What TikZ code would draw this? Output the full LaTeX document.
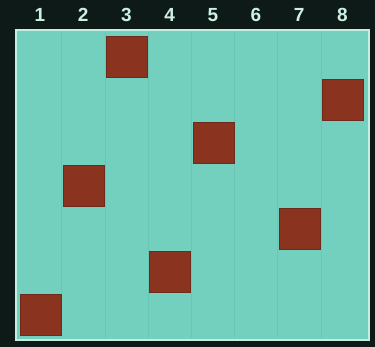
\documentclass[tikz,border=0pt]{standalone}
\usepackage{fontspec}
\setsansfont{Liberation Sans}
\usetikzlibrary{positioning}
\definecolor{night}{RGB}{14,26,24}
\definecolor{mint}{RGB}{116,208,190}
\definecolor{mintline}{RGB}{106,198,180}
\definecolor{rim}{RGB}{196,238,222}
\definecolor{rust}{RGB}{138,52,32}
\definecolor{chalk}{RGB}{205,240,225}
\tikzset{
  board/.style={fill=mint,draw=rim,line width=2pt},
  gridline/.style={draw=mintline,line width=0.5pt},
  queen/.style={fill=rust,draw=rust!80!black,line width=0.4pt,minimum width=41pt,minimum height=41pt,inner sep=0pt},
  collabel/.style={text=chalk,font=\sffamily\bfseries\fontsize{19}{20}\selectfont},
}
\begin{document}
\begin{tikzpicture}[x=1pt,y=-1pt]
  % background and board
  \fill[night] (0,0) rectangle (375,347);
  \useasboundingbox (0,0) rectangle (375,347);
  \draw[board] (16,30) rectangle (369,340);
  % faint cell lines
  \foreach \c in {1,...,7}
    \draw[gridline] ({18.5+\c*43.2},32) -- ({18.5+\c*43.2},338);
  % column numbers
  \foreach \c in {1,...,8}
    \node[collabel] (lab\c) at ({40+(\c-1)*43.2},15) {\c};
  % placed pieces: column/row
  \foreach \c/\r in {3/1,8/2,5/3,2/4,7/5,4/6,1/7}
    \node[queen] (q\c) at ({40.5+(\c-1)*43.2},{56.5+(\r-1)*43}) {};
\end{tikzpicture}
\end{document}
